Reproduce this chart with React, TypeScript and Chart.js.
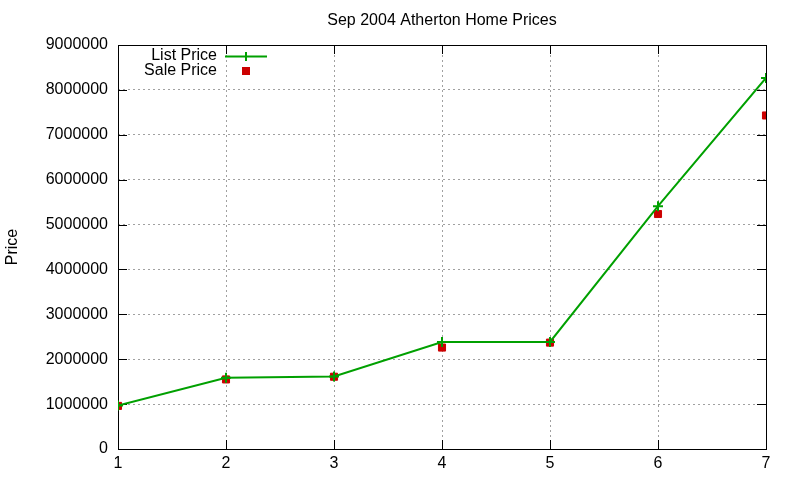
import { useEffect, useRef } from "react";
import Chart from "chart.js/auto";

const days = [1, 2, 3, 4, 5, 6, 7];
const listPrice = [970000, 1585000, 1615000, 2385000, 2385000, 5410000, 8265000];
const salePrice = [960000, 1550000, 1610000, 2260000, 2370000, 5235000, 7430000];
const yTicks = [0, 1000000, 2000000, 3000000, 4000000, 5000000, 6000000, 7000000, 8000000, 9000000];
const chartTitle = "Sep 2004 Atherton Home Prices";

const FONT = "'Liberation Sans', Arial, sans-serif";
const GREEN = "#00a000";
const RED = "#cc0000";

// gnuplot-ish frame, inward ticks, title over the plot and the legend
const framePlugin = {
  id: "frame",
  beforeDatasetsDraw(chart: any) {
    const { ctx, chartArea: a, scales } = chart;
    ctx.save();
    ctx.strokeStyle = "#000";
    ctx.lineWidth = 1;
    ctx.strokeRect(a.left + 0.5, a.top + 0.5, a.right - a.left, a.bottom - a.top);
    ctx.beginPath();
    yTicks.forEach((v) => {
      const y = Math.round(scales.y.getPixelForValue(v)) + 0.5;
      ctx.moveTo(a.left, y);
      ctx.lineTo(a.left + 9, y);
      ctx.moveTo(a.right, y);
      ctx.lineTo(a.right - 9, y);
    });
    days.forEach((d) => {
      const x = Math.round(scales.x.getPixelForValue(d)) + 0.5;
      ctx.moveTo(x, a.bottom);
      ctx.lineTo(x, a.bottom - 9);
      ctx.moveTo(x, a.top);
      ctx.lineTo(x, a.top + 9);
    });
    ctx.stroke();
    ctx.restore();
  },
  afterDraw(chart: any) {
    const { ctx, chartArea: a } = chart;
    ctx.save();
    ctx.font = `16px ${FONT}`;
    ctx.fillStyle = "#000";
    ctx.textBaseline = "middle";
    ctx.textAlign = "center";
    ctx.fillText(chartTitle, (a.left + a.right) / 2, 21);
    ctx.textAlign = "right";
    ctx.fillText(chart.data.datasets[0].label, 217, 56);
    ctx.fillText(chart.data.datasets[1].label, 217, 71);
    ctx.strokeStyle = GREEN;
    ctx.lineWidth = 2;
    ctx.beginPath();
    ctx.moveTo(225, 56.5);
    ctx.lineTo(267, 56.5);
    ctx.moveTo(246, 52);
    ctx.lineTo(246, 61);
    ctx.stroke();
    ctx.fillStyle = RED;
    ctx.fillRect(242, 67, 8, 8);
    ctx.restore();
  },
};

const App = () => {
  const canvasRef = useRef<HTMLCanvasElement | null>(null);
  const chartRef = useRef<Chart | null>(null);

  useEffect(() => {
    document.body.style.margin = "0";
    if (chartRef.current !== null) chartRef.current.destroy();
    if (canvasRef.current === null) return;

    chartRef.current = new Chart(canvasRef.current, {
      type: "line",
      data: {
        datasets: [
          {
            label: "List Price",
            data: days.map((d, i) => ({ x: d, y: listPrice[i] })),
            borderColor: GREEN,
            backgroundColor: GREEN,
            borderWidth: 2,
            pointStyle: "cross",
            pointRadius: 5,
            pointBorderWidth: 2,
            tension: 0,
          },
          {
            label: "Sale Price",
            data: days.map((d, i) => ({ x: d, y: salePrice[i] })),
            showLine: false,
            borderColor: RED,
            backgroundColor: RED,
            pointStyle: "rect",
            pointRadius: 5,
            pointBorderWidth: 1,
          },
        ],
      },
      plugins: [framePlugin],
      options: {
        animation: false,
        responsive: false,
        layout: { padding: { left: 0, right: 34, top: 45, bottom: 0 } },
        plugins: {
          legend: { display: false },
          tooltip: { enabled: false },
          title: { display: false },
        },
        scales: {
          x: {
            type: "linear",
            min: 1,
            max: 7,
            afterFit: (s: any) => {
              s.height = 31;
            },
            ticks: {
              stepSize: 1,
              color: "#000",
              font: { family: FONT, size: 16 },
              padding: 5,
            },
            grid: { color: "#a0a0a0", drawTicks: false, lineWidth: 1 },
            border: { display: false, dash: [2, 3] },
          },
          y: {
            type: "linear",
            min: 0,
            max: 9000000,
            afterFit: (s: any) => {
              s.width = 118;
            },
            title: {
              display: true,
              text: "Price",
              color: "#000",
              font: { family: FONT, size: 16 },
              padding: { top: 3, bottom: 0 },
            },
            ticks: {
              stepSize: 1000000,
              color: "#000",
              font: { family: FONT, size: 16 },
              padding: 10,
              callback: (v: any) => String(v),
            },
            grid: { color: "#a0a0a0", drawTicks: false, lineWidth: 1 },
            border: { display: false, dash: [2, 3] },
          },
        },
      },
    });

    return () => {
      if (chartRef.current !== null) {
        chartRef.current.destroy();
        chartRef.current = null;
      }
    };
  }, []);

  return (
    <div style={{ width: 800, height: 480 }}>
      <canvas ref={canvasRef} width={800} height={480} />
    </div>
  );
};

export default App;
